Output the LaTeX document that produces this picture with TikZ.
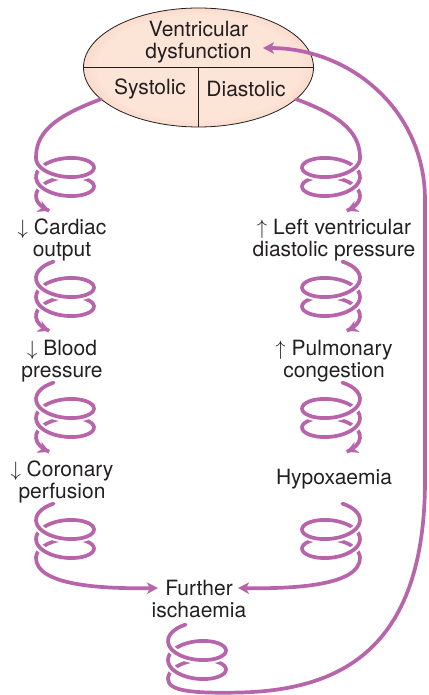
\documentclass[tikz,border=0pt]{standalone}
\usepackage{fontspec}
\setmainfont{TeX Gyre Heros}
\usetikzlibrary{arrows.meta, shapes.geometric}

\definecolor{coilpurple}{RGB}{183,100,170}
\definecolor{ovalin}{RGB}{252,228,215}
\definecolor{ovalout}{RGB}{240,145,112}
\definecolor{txt}{RGB}{35,31,32}

\pgfdeclareradialshading{ovalshade}{\pgfpoint{0bp}{0bp}}{color(0bp)=(ovalin); color(22bp)=(ovalin); color(50bp)=(ovalout); color(100bp)=(ovalout)}

% one piece of a helix: [style] cx, y0, side (-1 left hand, 1 right hand), domain
\newcommand{\turns}[5][]{\draw[coil,#1] plot[variable=\t, domain=#5, samples=80, smooth]
  ({#2+(#4)*29*cos(\t r)}, {#3+14*sin(\t r)+3.02*\t});}
% coil that ends in an arrow: cx, y0, side, start angle
\newcommand{\springdown}[4]{%
  \turns[tipped]{#1}{#2}{#3}{#4:13.57}
  \turns[front]{#1}{#2}{#3}{0.3:2.84}
  \turns[front]{#1}{#2}{#3}{6.58:9.12}
  \turns[front,tipped]{#1}{#2}{#3}{12.87:13.57}}
% coil that runs on into a curve: cx, y0, side
\newcommand{\springopen}[3]{%
  \turns{#1}{#2}{#3}{-1.17:12.566}
  \turns[front]{#1}{#2}{#3}{0.3:2.84}
  \turns[front]{#1}{#2}{#3}{6.58:9.12}}

\begin{document}
\begin{tikzpicture}[x=1pt, y=-1pt,
  coil/.style={draw=coilpurple, line width=3.7pt, line cap=round},
  tipped/.style={-{Stealth[length=11pt, width=11.5pt, inset=3pt]}},
  front/.style={preaction={draw=white, line width=8pt, line cap=butt}},
  lbl/.style={font=\fontsize{21}{22}\selectfont, align=center, text=txt, inner sep=0pt},
]
  \useasboundingbox (0,0) rectangle (428,695);

  % the oval
  \node[ellipse, draw=txt, line width=0.8pt, shading=ovalshade,
        minimum width=230pt, minimum height=119pt, inner sep=0pt] (vd) at (198.5,67.5) {};
  \draw[txt, line width=0.8pt] (vd.west) -- (vd.east);
  \draw[txt, line width=0.8pt] (vd.center) -- (vd.south);
  \node[lbl] (title) at (198.5,42) {Ventricular\\dysfunction};
  \node[lbl] (sys) at (150,89) {Systolic};
  \node[lbl] (dia) at (246,89) {Diastolic};

  % labels
  \node[lbl] (co) at (62,240) {$\downarrow$ Cardiac\\output};
  \node[lbl] (bp) at (62,361) {$\downarrow$ Blood\\pressure};
  \node[lbl] (cp) at (62,482) {$\downarrow$ Coronary\\perfusion};
  \node[lbl] (lv) at (334,240) {$\uparrow$ Left ventricular\\diastolic pressure};
  \node[lbl] (pc) at (334,361) {$\uparrow$ Pulmonary\\congestion};
  \node[lbl] (hy) at (334,479) {Hypoxaemia};
  \node[lbl] (fi) at (199,599) {Further\\ischaemia};

  \coordinate (fiL) at (158,588);
  \coordinate (fiR) at (238,588);
  \coordinate (vdTip) at (263,48);

  % left column
  \draw[coil] (vd.198) .. controls (50,118) and (36,135) .. (36,158);
  \springdown{65}{158}{-1}{0}
  \springdown{65}{278}{-1}{-1.17}
  \springdown{65}{399}{-1}{-1.17}
  \springopen{65}{520}{-1}
  \draw[coil, tipped] (36,557.95) .. controls (36,585) and (100,589) .. (fiL);

  % right column
  \draw[coil] (vd.-18) .. controls (345,117) and (360,135) .. (360,158);
  \springdown{331}{158}{1}{0}
  \springdown{331}{278}{1}{-1.17}
  \springdown{331}{399}{1}{-1.17}
  \springopen{331}{520}{1}
  \draw[coil, tipped] (360,557.95) .. controls (360,585) and (296,589) .. (fiR);

  % back to the top
  \springopen{197}{641}{-1}
  \draw[coil, tipped] (168,678.95) .. controls (168,691) and (192,693.5) .. (240,692.5)
    .. controls (345,690) and (425,645) .. (425,480) -- (425,200)
    .. controls (425,110) and (350,48) .. (vdTip);
\end{tikzpicture}
\end{document}
